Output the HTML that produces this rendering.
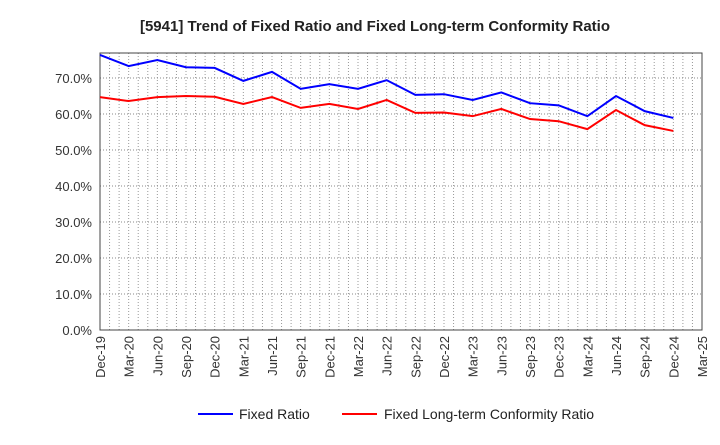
<!DOCTYPE html>
<html><head><meta charset="utf-8"><style>
body{margin:0;background:#fff;font-family:"Liberation Sans",sans-serif}
</style></head><body>
<svg id="chart" width="720" height="440" xmlns="http://www.w3.org/2000/svg" font-family="Liberation Sans, sans-serif">
<text x="375" y="31" text-anchor="middle" font-size="15" font-weight="bold" fill="#222">[5941]  Trend of Fixed Ratio and Fixed Long-term Conformity Ratio</text>
<g id="grid"></g><g id="axes"></g><g id="series"></g>
<g>
<line x1="198" y1="414" x2="233" y2="414" stroke="#0000ff" stroke-width="2"/>
<text x="239" y="419" font-size="14" fill="#222">Fixed Ratio</text>
<line x1="342" y1="414" x2="377" y2="414" stroke="#ff0000" stroke-width="2"/>
<text x="384" y="419" font-size="14" fill="#222">Fixed Long-term Conformity Ratio</text>
</g>
</svg>
<script>
const categories=["Dec-19","Mar-20","Jun-20","Sep-20","Dec-20","Mar-21","Jun-21","Sep-21","Dec-21","Mar-22","Jun-22","Sep-22","Dec-22","Mar-23","Jun-23","Sep-23","Dec-23","Mar-24","Jun-24","Sep-24","Dec-24","Mar-25"];
const fixedRatio=[76.4,73.3,75.0,73.0,72.8,69.2,71.7,67.0,68.3,67.0,69.4,65.3,65.5,63.9,66.0,63.0,62.4,59.4,65.0,60.8,58.9];
const conformityRatio=[64.7,63.6,64.7,65.0,64.8,62.8,64.7,61.7,62.8,61.4,63.9,60.3,60.4,59.4,61.4,58.6,58.0,55.8,61.1,56.9,55.3];
const yTicks=[0,10,20,30,40,50,60,70];
const NS="http://www.w3.org/2000/svg";
const L=100,R=702,T=53,B=330;
const yMax=(B-T)/3.6;
const x=i=>L+(R-L)*i/(categories.length-1);
const y=v=>B-(B-T)*v/yMax;
function mk(tag,attrs,parent){const e=document.createElementNS(NS,tag);for(const k in attrs)e.setAttribute(k,attrs[k]);parent.appendChild(e);return e;}
const grid=document.getElementById('grid'),axes=document.getElementById('axes'),series=document.getElementById('series');
for(let m=1;m<(categories.length-1)*3;m++){const xx=L+(R-L)*m/((categories.length-1)*3);
const g=mk('line',{x1:xx,x2:xx,y1:T,y2:B,stroke:'#999','stroke-dasharray':'1,2','stroke-width':1},grid);

}
yTicks.forEach(v=>{const yy=y(v);
if(v>0){const g=mk('line',{x1:L,x2:R,y1:yy,y2:yy,stroke:'#888','stroke-dasharray':'1,2','stroke-width':1},grid);

}
const t=mk('text',{x:L-8,y:yy+5,'text-anchor':'end','font-size':13,fill:'#333'},axes);t.textContent=v.toFixed(1)+'%';

});
categories.forEach((c,i)=>{const xx=x(i);
const t=mk('text',{x:0,y:0,'text-anchor':'end','font-size':13,fill:'#333',transform:`translate(${xx+5},${B+6}) rotate(-90)`},axes);t.textContent=c;

});
const fr=mk('rect',{x:L,y:T,width:R-L,height:B-T,fill:'none',stroke:'#444','stroke-width':1},axes);


function line(vals,color,name){const p=mk('polyline',{points:vals.map((v,i)=>x(i)+','+y(v)).join(' '),fill:'none',stroke:color,'stroke-width':2},series);

}
line(fixedRatio,'#0000ff','fixed-ratio-line');
line(conformityRatio,'#ff0000','conformity-ratio-line');
</script>
</body></html>
